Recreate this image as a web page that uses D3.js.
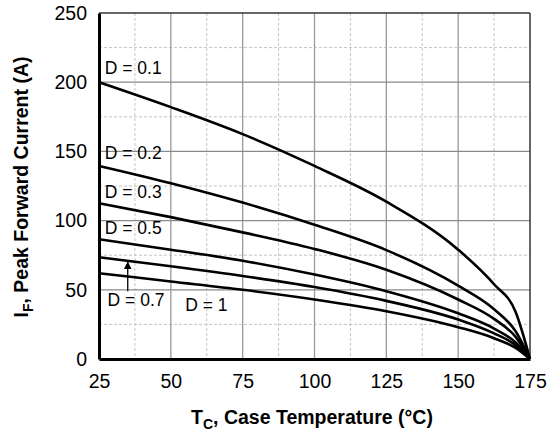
<!DOCTYPE html>
<html>
<head>
<meta charset="utf-8">
<script src="https://cdn.jsdelivr.net/npm/d3@7"></script>
<style>
  html, body { margin: 0; padding: 0; background: #fff; }
  svg { display: block; font-family: "Liberation Sans", Arial, Helvetica, sans-serif; }
</style>
</head>
<body>
<svg id="chart" width="552" height="434"></svg>
<script>
// ---- data ----
const temps = [25, 50, 75, 100, 125, 150, 162.5, 170, 175];
const d01 = [200, 182, 162.5, 139.5, 113.7, 79, 54, 34, 0];
const d02 = [139.5, 127, 113, 97, 78.7, 53, 36, 20, 0];
const d03 = [112.5, 102.5, 91.5, 79.5, 64.5, 43, 29, 16, 0];
const d05 = [86.5, 79, 71, 61, 49, 33, 22, 12, 0];
const d07 = [73.5, 67, 60, 52, 42, 28.5, 18.5, 10, 0];
const d10 = [62, 56, 50, 43, 34.5, 23, 15, 8, 0];
const seriesNames = ["D = 0.1", "D = 0.2", "D = 0.3", "D = 0.5", "D = 0.7", "D = 1"];
const xTicks = [25, 50, 75, 100, 125, 150, 175];
const yTicks = [0, 50, 100, 150, 200, 250];
const xMinor = [37.5, 62.5, 87.5, 112.5, 137.5, 162.5];
const yMinor = [25, 75, 125, 175, 225];

const series = [d01, d02, d03, d05, d07, d10];

// ---- layout ----
const svg = d3.select("#chart");
const L = 99, R = 530, T = 13, B = 359;
const x = d3.scaleLinear().domain([25, 175]).range([L, R]);
const y = d3.scaleLinear().domain([0, 250]).range([B, T]);
const FONT = "'Liberation Sans', Arial, Helvetica, sans-serif";

// minor grid (dashed)
const g = svg.append("g");
g.selectAll(".xm").data(xMinor).join("line")
  .attr("x1", d => x(d)).attr("x2", d => x(d)).attr("y1", T).attr("y2", B)
  .attr("stroke", "#c4c4c4").attr("stroke-width", 1).attr("stroke-dasharray", "3,2");
g.selectAll(".ym").data(yMinor).join("line")
  .attr("x1", L).attr("x2", R).attr("y1", d => y(d)).attr("y2", d => y(d))
  .attr("stroke", "#c4c4c4").attr("stroke-width", 1).attr("stroke-dasharray", "3,2");
// major grid
g.selectAll(".xM").data(xTicks.slice(1, -1)).join("line")
  .attr("x1", d => x(d)).attr("x2", d => x(d)).attr("y1", T).attr("y2", B)
  .attr("stroke", "#9a9a9a").attr("stroke-width", 1.3);
g.selectAll(".yM").data(yTicks.slice(1, -1)).join("line")
  .attr("x1", L).attr("x2", R).attr("y1", d => y(d)).attr("y2", d => y(d))
  .attr("stroke", "#8a8a8a").attr("stroke-width", 1.3);

// top & right border
svg.append("line").attr("x1", L).attr("x2", R).attr("y1", y(250)).attr("y2", y(250))
  .attr("stroke", "#333").attr("stroke-width", 1.5);
svg.append("line").attr("x1", x(175)).attr("x2", x(175)).attr("y1", T).attr("y2", B)
  .attr("stroke", "#333").attr("stroke-width", 1.5);

// curves
const line = d3.line()
  .x((d, i) => x(temps[i]))
  .y(d => y(d))
  .curve(d3.curveMonotoneX);
svg.append("g").selectAll("path").data(series).join("path")
  .attr("d", d => line(d))
  .attr("fill", "none").attr("stroke", "#000").attr("stroke-width", 2.6)
  .attr("stroke-linejoin", "round");

// axes (left & bottom thick)
const xAxis = d3.axisBottom(x).tickValues(xTicks).tickSize(0).tickPadding(15);
const yAxis = d3.axisLeft(y).tickValues(yTicks).tickSize(0).tickPadding(12);
const gx = svg.append("g").attr("transform", `translate(0,${B})`).call(xAxis);
const gy = svg.append("g").attr("transform", `translate(${L},0)`).call(yAxis);
[gx, gy].forEach(a => {
  a.select(".domain").attr("stroke", "#000").attr("stroke-width", 3);
  a.selectAll("text").attr("font-size", 19.5).attr("fill", "#000")
    .attr("font-family", FONT);
});

// series labels
const labelPos = [
  {t: 27, v: 206, name: seriesNames[0]},
  {t: 27, v: 144.5, name: seriesNames[1]},
  {t: 27, v: 116.5, name: seriesNames[2]},
  {t: 27, v: 90.5, name: seriesNames[3]},
  {t: 28, v: 38.5, name: seriesNames[4]},
  {t: 55, v: 34.8, name: seriesNames[5]}
];
svg.append("g").selectAll("text").data(labelPos).join("text")
  .attr("x", d => x(d.t)).attr("y", d => y(d.v))
  .attr("font-size", 17.5).attr("fill", "#000")
  .text(d => d.name);

// arrow for D = 0.7
svg.append("defs").append("marker")
  .attr("id", "ah").attr("viewBox", "0 0 10 10").attr("refX", 10).attr("refY", 5)
  .attr("markerWidth", 6).attr("markerHeight", 7).attr("orient", "auto")
  .append("path").attr("d", "M0,0 L10,5 L0,10 Z").attr("fill", "#000");
svg.append("line")
  .attr("x1", x(35)).attr("x2", x(35))
  .attr("y1", y(49)).attr("y2", y(70.5))
  .attr("stroke", "#000").attr("stroke-width", 1.3)
  .attr("marker-end", "url(#ah)");

// axis titles
const xt = svg.append("text").attr("x", 312).attr("y", 424)
  .attr("text-anchor", "middle").attr("font-size", 19.5).attr("font-weight", "bold");
xt.append("tspan").text("T");
xt.append("tspan").attr("font-size", 14).attr("dy", 5).text("C");
xt.append("tspan").attr("dy", -5).text(", Case Temperature (°C)");

const yt = svg.append("text")
  .attr("transform", "translate(28,187) rotate(-90)")
  .attr("text-anchor", "middle").attr("font-size", 19.5).attr("font-weight", "bold");
yt.append("tspan").text("I");
yt.append("tspan").attr("font-size", 14).attr("dy", 5).text("F");
yt.append("tspan").attr("dy", -5).text(", Peak Forward Current (A)");
</script>
</body>
</html>
